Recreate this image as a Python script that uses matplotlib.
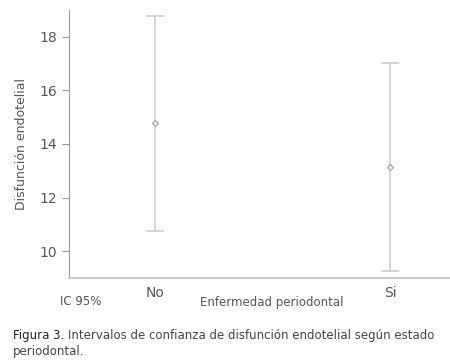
import matplotlib.pyplot as plt

grupos = ["No", "Si"]
media = [14.78, 13.15]
ic_inf = [10.74, 9.26]
ic_sup = [18.78, 17.04]

gris = "#555555"
plt.rcParams['font.family'] = ['DejaVu Sans']

fig = plt.figure(figsize=(4.5, 3.6), dpi=100)
ax = fig.add_axes([0.153, 0.228, 0.847, 0.744])

x = list(range(len(grupos)))
err = [[m - l for m, l in zip(media, ic_inf)], [u - m for m, u in zip(media, ic_sup)]]
ax.errorbar(x, media, yerr=err, fmt="D", ms=3, mfc="white", mec="#aaaaaa",
            ecolor="#cccccc", elinewidth=1.1, capsize=6.5, capthick=1.2)

ax.set_xlim(-0.366, 1.255)
ax.set_ylim(9.0, 19.0)
ax.set_yticks([10, 12, 14, 16, 18])
ax.set_xticks(x)
ax.set_xticklabels(grupos)

for s in ["top", "right"]:
    ax.spines[s].set_visible(False)
ax.spines["left"].set_color("#999999")
ax.spines["bottom"].set_color("#cccccc")
ax.spines["bottom"].set_linewidth(1.5)
ax.tick_params(axis="y", colors="#999999", labelcolor=gris, labelsize=10, length=5)
ax.tick_params(axis="x", length=0, labelcolor=gris, labelsize=10, pad=6)

ax.set_ylabel("Disfunción endotelial", color=gris, fontsize=9, labelpad=8)
ax.set_xlabel("Enfermedad periodontal", color=gris, fontsize=8.5)
ax.xaxis.set_label_coords(0.533, -0.068)
fig.text(0.134, 0.163, "IC 95%", color=gris, fontsize=8.5, ha="left", va="center")

fig.text(0.029, 0.069, "Figura 3.", color="#222222", fontsize=8.5, ha="left", va="center")
fig.text(0.151, 0.069, "Intervalos de confianza de disfunción endotelial según estado",
         color="#444444", fontsize=8.5, ha="left", va="center")
fig.text(0.029, 0.025, "periodontal.", color="#444444", fontsize=8.5, ha="left", va="center")

fig.savefig("out.png", dpi=100)
